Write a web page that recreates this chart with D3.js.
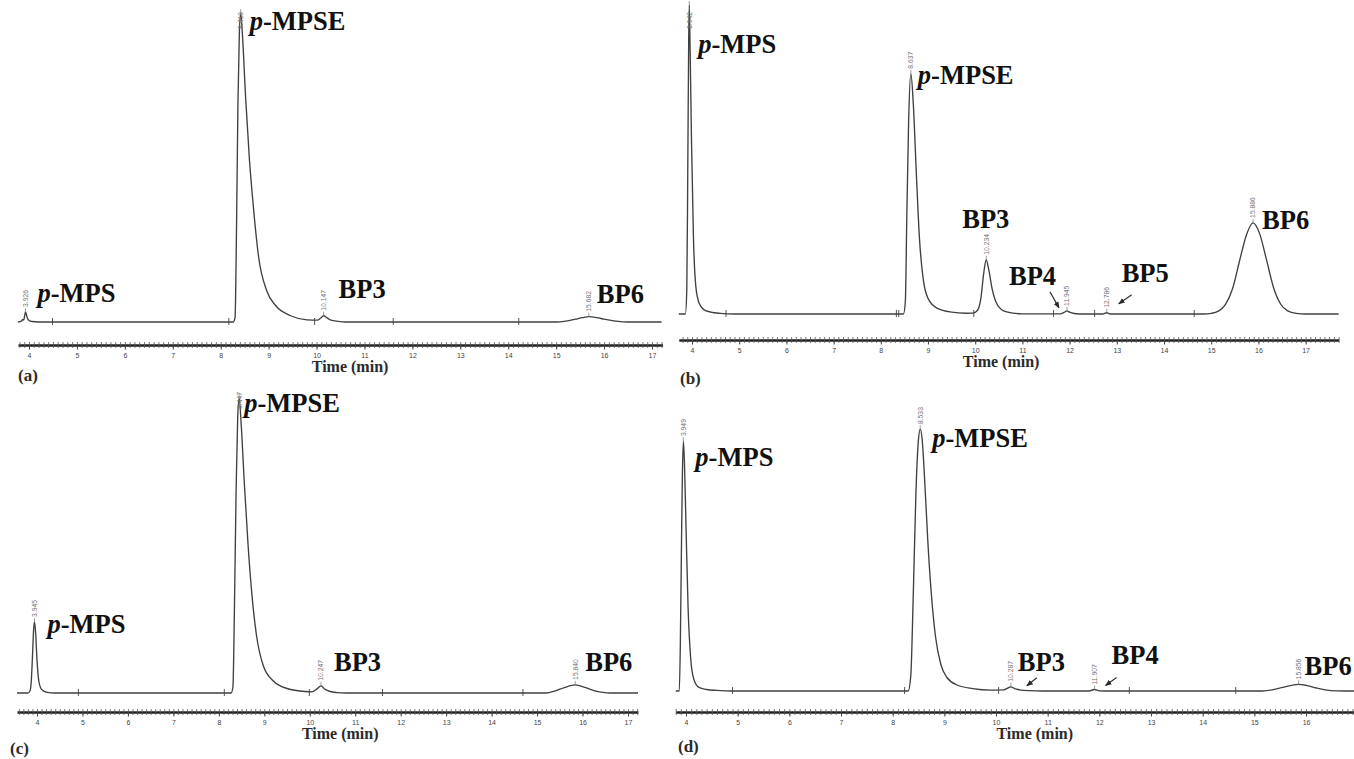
<!DOCTYPE html>
<html>
<head>
<meta charset="utf-8">
<script src="https://cdn.jsdelivr.net/npm/d3@7"></script>
<style>
  body { margin: 0; background: #fff; }
  svg { display: block; }
</style>
</head>
<body>
<svg id="chart" width="1354" height="759"></svg>
<script>
// ---- data: HPLC traces, [time (min), signal (% full scale)]

// (a)
const traceA = [
  [3.77,0],[3.84,0.3],[3.87,0.8],[3.89,0.6],[3.91,2.0],[3.926,3.2],[3.945,2.4],[3.97,1.1],[4.0,0.5],[4.06,0.15],[4.2,0],
  [8.26,0],[8.30,1.5],[8.33,30],[8.36,70],[8.39,93],[8.418,99],[8.45,93],[8.52,72],[8.60,52],[8.67,39],[8.79,21],
  [8.96,10],[9.15,5.2],[9.46,2.0],[9.8,0.7],[10.02,0.6],[10.08,1.2],[10.147,2.0],[10.22,1.3],[10.3,0.6],[10.45,0.2],[10.6,0],
  [15.0,0],[15.2,0.3],[15.4,0.9],[15.55,1.4],[15.682,1.7],[15.85,1.4],[16.0,0.9],[16.2,0.35],[16.4,0.05],[16.5,0],[17.2,0]
];
const rtA = [3.926, 8.418, 10.147, 15.682];
const namesA = ["p-MPS", "p-MPSE", "BP3", "BP6"];
const eventsA = [4.49, 8.17, 9.96, 11.6, 14.22];
const ticksA = [4,5,6,7,8,9,10,11,12,13,14,15,16,17];

// (b)
const traceB = [
  [3.72,0],[3.86,0],[3.89,8],[3.91,45],[3.93,88],[3.942,99],[3.96,85],[3.99,55],[4.03,25],[4.08,9],[4.15,3.5],
  [4.25,1.4],[4.4,0.6],[4.6,0.2],[4.9,0],
  [8.48,0],[8.52,4],[8.55,30],[8.59,62],[8.637,77],[8.69,67],[8.75,46],[8.82,24],[8.9,11],[9.0,5],[9.2,1.8],
  [9.5,0.6],[9.8,0.25],[9.95,0.3],[10.05,1.2],[10.12,5],[10.18,13],[10.234,17.4],[10.29,14],[10.36,8],[10.45,3.5],
  [10.6,1.0],[10.8,0.3],[11.0,0.05],
  [11.8,0.05],[11.88,0.5],[11.945,1.0],[12.0,0.6],[12.1,0.15],[12.2,0],
  [12.7,0],[12.786,0.4],[12.86,0],
  [14.85,0],[15.0,0.2],[15.15,0.9],[15.3,3.0],[15.45,8],[15.6,17],[15.75,25.5],[15.886,29.2],[16.02,26],
  [16.17,17.5],[16.32,8.5],[16.47,3.2],[16.62,1.0],[16.8,0.2],[17.0,0],[17.7,0]
];
const rtB = [3.942, 8.637, 10.234, 11.945, 12.786, 15.886];
const namesB = ["p-MPS", "p-MPSE", "BP3", "BP4", "BP5", "BP6"];
const eventsB = [4.72, 8.33, 8.38, 9.97, 11.66, 12.53, 14.64];
const ticksB = [4,5,6,7,8,9,10,11,12,13,14,15,16,17];

// (c)
const traceC = [
  [3.56,0],[3.8,0],[3.84,0.5],[3.87,3],[3.9,12],[3.925,21],[3.945,23.7],[3.97,20],[4.0,11],[4.04,4],[4.1,1.2],[4.2,0.3],[4.4,0],
  [8.27,0],[8.31,2],[8.34,25],[8.38,68],[8.415,92],[8.447,98.3],[8.49,90],[8.56,70],[8.64,50],[8.72,34],[8.83,19],
  [8.98,9],[9.2,4],[9.5,1.5],[9.9,0.5],[10.05,0.4],[10.15,1.3],[10.247,2.4],[10.33,1.3],[10.45,0.5],[10.6,0.15],[10.8,0],
  [15.2,0],[15.4,0.7],[15.6,1.8],[15.84,2.7],[16.05,1.9],[16.25,0.8],[16.45,0.2],[16.6,0],[17.22,0]
];
const rtC = [3.945, 8.447, 10.247, 15.840];
const namesC = ["p-MPS", "p-MPSE", "BP3", "BP6"];
const eventsC = [4.91, 8.12, 9.99, 11.6, 14.69];
const ticksC = [4,5,6,7,8,9,10,11,12,13,14,15,16,17];

// (d)
const traceD = [
  [3.8,0],[3.87,0],[3.89,15],[3.91,45],[3.93,72],[3.949,83.3],[3.97,76],[4.0,55],[4.04,28],[4.09,11],[4.15,4],
  [4.25,1.2],[4.4,0.5],[4.6,0.2],[4.9,0],
  [8.3,0],[8.35,5],[8.40,33],[8.45,66],[8.50,84],[8.533,87.3],[8.57,84],[8.62,70],[8.68,50],[8.75,32],[8.83,18],
  [8.93,9],[9.05,4.5],[9.25,2],[9.55,0.8],[9.9,0.3],[10.15,0.4],[10.22,0.9],[10.287,1.4],[10.36,0.8],[10.48,0.3],
  [10.65,0.1],[10.9,0],
  [11.8,0],[11.907,0.5],[12.0,0.05],[12.1,0],
  [15.15,0],[15.35,0.4],[15.55,1.2],[15.72,1.9],[15.856,2.2],[16.0,1.9],[16.2,1.0],[16.4,0.3],[16.6,0.05],[16.75,0],[16.95,0]
];
const rtD = [3.949, 8.533, 10.287, 11.907, 15.856];
const namesD = ["p-MPS", "p-MPSE", "BP3", "BP4", "BP6"];
const eventsD = [4.90, 8.23, 10.05, 12.58, 14.64];
const ticksD = [4,5,6,7,8,9,10,11,12,13,14,15,16];

// ---- layout (pixels)
// x4/x17: where 4 and 17 min sit, dom: drawn time span, base/top: 0 and 100 % signal
// lab: name label offset from peak apex, arrows: [peak index, [from dx,dy, to dx,dy]] from apex
const panels = [
  { letter: "(a)", trace: traceA, rts: rtA, names: namesA, events: eventsA, ticks: ticksA,
    x4: 29, x17: 652, dom: [3.77, 17.22], base: 322, top: 10, axisY: 345, clampTop: 12,
    letterX: 18, letterY: 381, titleT: 10.7,
    lab: [[12,-10],[9,17],[15,-18],[8,-14]], arrows: [] },
  { letter: "(b)", trace: traceB, rts: rtB, names: namesB, events: eventsB, ticks: ticksB,
    x4: 692, x17: 1305.6, dom: [3.72, 17.7], base: 314, top: 2, axisY: 340, clampTop: 12,
    letterX: 680, letterY: 384, titleT: 10.55,
    lab: [[9,48],[7,10],[-24,-32],[-58,-26],[15,-31],[9,6]],
    arrows: [[3, [-17,-19,-8,-3]], [4, [25,-18,12,-9]]] },
  { letter: "(c)", trace: traceC, rts: rtC, names: namesC, events: eventsC, ticks: ticksC,
    x4: 37, x17: 628, dom: [3.56, 17.22], base: 693, top: 393, axisY: 712, clampTop: 392,
    letterX: 10, letterY: 754, titleT: 10.67,
    lab: [[13,11],[5,14],[13,-15],[10,-14]], arrows: [] },
  { letter: "(d)", trace: traceD, rts: rtD, names: namesD, events: eventsD, ticks: ticksD,
    x4: 686, x17: 1357.7, dom: [3.8, 16.95], base: 691, top: 391, axisY: 712, clampTop: 392,
    letterX: 678, letterY: 752, titleT: 10.75,
    lab: [[12,25],[12,18],[7,-16],[17,-26],[6,-9]],
    arrows: [[2, [26,-9,16,-1]], [3, [22,-12,11,-4]]] }
];

const INK = "#2b2b2b";
const SERIF = "'Liberation Serif', 'Times New Roman', serif";

const svg = d3.select("#chart");

svg.append("defs").append("marker")
  .attr("id", "arrow")
  .attr("viewBox", "0 0 10 10")
  .attr("refX", 9).attr("refY", 5)
  .attr("markerWidth", 6).attr("markerHeight", 6)
  .attr("orient", "auto")
  .append("path")
  .attr("d", "M0,1 L10,5 L0,9 Z")
  .attr("fill", INK);

panels.forEach(drawPanel);

function drawPanel(p) {
  // time scale anchored on the 4 and 17 min ticks, stretched to the drawn span
  const k = d3.scaleLinear().domain([4, 17]).range([p.x4, p.x17]);
  const x = d3.scaleLinear().domain(p.dom).range(p.dom.map(k));
  const y = d3.scaleLinear().domain([0, 100]).range([p.base, p.top]);

  const g = svg.append("g");

  // integration event marks on the baseline
  g.selectAll("line.ev")
    .data(p.events)
    .join("line")
    .attr("class", "ev")
    .attr("x1", d => x(d)).attr("x2", d => x(d))
    .attr("y1", p.base - 4).attr("y2", p.base + 3)
    .attr("stroke", "#555").attr("stroke-width", 1);

  // chromatogram trace
  const line = d3.line()
    .x(d => x(d[0]))
    .y(d => y(d[1]))
    .curve(d3.curveMonotoneX);

  g.append("path")
    .datum(p.trace)
    .attr("d", line)
    .attr("fill", "none")
    .attr("stroke", "#404040")
    .attr("stroke-width", 1.35);

  // bottom axis: minor ticks every 0.1 min plus labelled minutes
  const minor = d3.range(Math.ceil(p.dom[0] * 10), Math.floor(p.dom[1] * 10) + 1).map(v => v / 10);

  const axMinor = g.append("g")
    .attr("transform", "translate(0," + p.axisY + ")")
    .call(d3.axisBottom(x).tickValues(minor).tickSize(3).tickSizeOuter(0).tickFormat(""));
  axMinor.select(".domain").attr("stroke", "#222").attr("stroke-width", 2.6);
  axMinor.selectAll(".tick line").attr("stroke", "#555").attr("stroke-width", 0.8).attr("y1", -3);

  const axMajor = g.append("g")
    .attr("transform", "translate(0," + p.axisY + ")")
    .call(d3.axisBottom(x).tickValues(p.ticks).tickSize(4.5).tickSizeOuter(0).tickFormat(d3.format("d")));
  axMajor.select(".domain").remove();
  axMajor.selectAll(".tick line").attr("stroke", "#444").attr("stroke-width", 1);
  axMajor.selectAll(".tick text")
    .attr("y", 8)
    .attr("font-family", "'Liberation Sans', Arial, sans-serif")
    .attr("font-size", 7)
    .attr("fill", "#444");

  // axis title and panel letter
  g.append("text")
    .attr("x", x(p.titleT))
    .attr("y", p.axisY + 27)
    .attr("text-anchor", "middle")
    .attr("font-family", SERIF)
    .attr("font-weight", "bold")
    .attr("font-size", 16)
    .attr("fill", INK)
    .text("Time (min)");

  g.append("text")
    .attr("x", p.letterX)
    .attr("y", p.letterY)
    .attr("font-family", SERIF)
    .attr("font-weight", "bold")
    .attr("font-size", 17)
    .attr("fill", INK)
    .text(p.letter);

  // peak apex positions from the trace
  const apex = p.rts.map(rt => {
    const pt = d3.least(p.trace, d => Math.abs(d[0] - rt));
    return { rt: rt, px: x(rt), py: y(pt[1]) };
  });

  // retention time stamps (vertical)
  apex.forEach(a => {
    g.append("line")
      .attr("x1", a.px).attr("x2", a.px)
      .attr("y1", a.py).attr("y2", a.py - 4)
      .attr("stroke", "#777").attr("stroke-width", 0.7);
    const t = g.append("text")
      .attr("font-family", "'Liberation Sans', Arial, sans-serif")
      .attr("font-size", 6.8)
      .attr("fill", "#777")
      .text(a.rt.toFixed(3));
    const len = t.node().getComputedTextLength();
    let bottom = a.py - 5;
    if (bottom - len < p.clampTop) bottom = p.clampTop + len;
    t.attr("transform", "translate(" + (a.px + 2.4) + "," + bottom + ") rotate(-90)");
  });

  // compound names
  apex.forEach((a, i) => {
    const name = p.names[i];
    const t = g.append("text")
      .attr("x", a.px + p.lab[i][0])
      .attr("y", a.py + p.lab[i][1])
      .attr("font-family", SERIF)
      .attr("font-weight", "bold")
      .attr("font-size", 26.5)
      .attr("fill", "#111");
    if (name.startsWith("p-")) {
      t.append("tspan").attr("font-style", "italic").text("p");
      t.append("tspan").text(name.slice(1));
    } else {
      t.text(name);
    }
  });

  // pointer arrows to the small peaks
  p.arrows.forEach(([i, o]) => {
    const a = apex[i];
    g.append("line")
      .attr("x1", a.px + o[0]).attr("y1", a.py + o[1])
      .attr("x2", a.px + o[2]).attr("y2", a.py + o[3])
      .attr("stroke", INK).attr("stroke-width", 1.1)
      .attr("marker-end", "url(#arrow)");
  });
}
</script>
</body>
</html>
